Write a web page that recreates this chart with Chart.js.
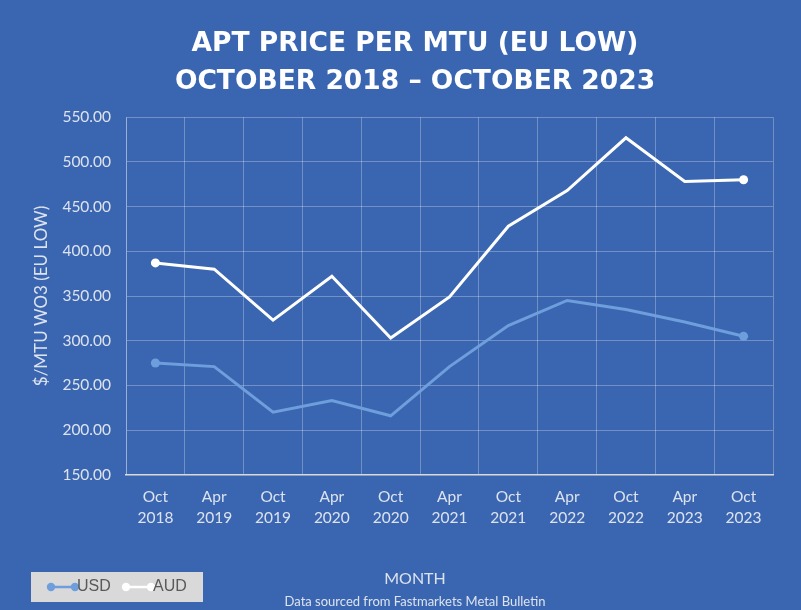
<!DOCTYPE html>
<html>
<head>
<meta charset="utf-8">
<script src="https://cdn.jsdelivr.net/npm/chart.js@4/dist/chart.umd.min.js"></script>
<style>
  html, body { margin: 0; padding: 0; background: #3A66B1; }
  #wrap { width: 801px; height: 610px; position: relative; }
</style>
</head>
<body>
<div id="wrap"><canvas id="c" width="801" height="610"></canvas></div>
<script>
const categories = [["Oct","2018"],["Apr","2019"],["Oct","2019"],["Apr","2020"],["Oct","2020"],["Apr","2021"],["Oct","2021"],["Apr","2022"],["Oct","2022"],["Apr","2023"],["Oct","2023"]];
const usdValues = [275, 271, 220, 233, 216, 271, 317, 345, 335, 321, 305];
const audValues = [387, 380, 323, 372, 303, 349, 428, 468, 527, 478, 480];
const yMin = 150, yMax = 550, yStep = 50;
const titleLines = ["APT PRICE PER MTU (EU LOW)", "OCTOBER 2018 \u2013 OCTOBER 2023"];
const yTitle = "$/MTU WO3 (EU LOW)";
const xTitle = "MONTH";
const footer = "Data sourced from Fastmarkets Metal Bulletin";

const USD_COLOR = "#6E9EDC";
const AUD_COLOR = "#FFFFFF";
const TEXT_COLOR = "#DDE3EE";
const GRID_COLOR = "rgba(255,255,255,0.28)";

function endPoints(ctx) {
  const n = ctx.dataset.data.length;
  return (ctx.dataIndex === 0 || ctx.dataIndex === n - 1) ? 4.5 : 0;
}

// Centre the title, footer and x-axis title on x = 415 as in the reference
const centerPlugin = {
  id: "centerText",
  afterLayout(chart) {
    const cx = 415, half = 358;
    const TitleCls = chart.titleBlock ? chart.titleBlock.constructor : null;
    chart.boxes.forEach(b => {
      if (TitleCls && b instanceof TitleCls) { b.left = cx - half; b.right = cx + half; }
    });
    const sx = chart.scales.x;
    if (sx && !sx._shiftWrapped) {
      const orig = sx.drawTitle.bind(sx);
      sx.drawTitle = function () {
        const mid = (this.left + this.right) / 2;
        this.ctx.save();
        this.ctx.translate(cx - mid, 0);
        orig();
        this.ctx.restore();
      };
      sx._shiftWrapped = true;
    }
  }
};

const legendPlugin = {
  id: "boxLegend",
  afterDraw(chart) {
    const ctx = chart.ctx;
    ctx.save();
    ctx.fillStyle = "#D9D9D9";
    ctx.fillRect(31, 572, 172, 30);
    const items = [
      { x0: 51, x1: 75, tx: 77 },
      { x0: 126, x1: 151, tx: 153 }
    ];
    const y = 587;
    ctx.font = "16px 'Liberation Sans Narrow', 'Liberation Sans', Arial, sans-serif";
    ctx.textBaseline = "middle";
    ctx.textAlign = "left";
    chart.data.datasets.forEach((ds, i) => {
      const it = items[i];
      ctx.strokeStyle = ds.borderColor;
      ctx.fillStyle = ds.borderColor;
      ctx.lineWidth = 2.5;
      ctx.beginPath();
      ctx.moveTo(it.x0, y); ctx.lineTo(it.x1, y); ctx.stroke();
      [it.x0, it.x1].forEach(px => { ctx.beginPath(); ctx.arc(px, y, 4.2, 0, Math.PI * 2); ctx.fill(); });
      ctx.fillStyle = "#595959";
      ctx.fillText(ds.label, it.tx, y);
    });
    ctx.restore();
  }
};

new Chart(document.getElementById("c"), {
  type: "line",
  data: {
    labels: categories,
    datasets: [
      { label: "USD", data: usdValues, borderColor: USD_COLOR, backgroundColor: USD_COLOR,
        borderWidth: 3, pointRadius: endPoints, pointBackgroundColor: USD_COLOR, pointBorderWidth: 0, tension: 0 },
      { label: "AUD", data: audValues, borderColor: AUD_COLOR, backgroundColor: AUD_COLOR,
        borderWidth: 3, pointRadius: endPoints, pointBackgroundColor: AUD_COLOR, pointBorderWidth: 0, tension: 0 }
    ]
  },
  options: {
    responsive: false,
    animation: false,
    devicePixelRatio: 1,
    layout: { padding: { left: 0, right: 28, top: 0, bottom: 0 } },
    plugins: {
      legend: { display: false },
      tooltip: { enabled: false },
      title: {
        display: true, text: titleLines, color: "#FFFFFF",
        font: { family: "'DejaVu Sans', sans-serif", size: 26.5, weight: "bold", lineHeight: 1.4 },
        padding: { top: 26, bottom: 17 }
      },
      subtitle: {
        display: true, position: "bottom", text: footer, color: TEXT_COLOR,
        font: { family: "Lato, sans-serif", size: 13, lineHeight: 1.2 },
        padding: { top: 2, bottom: 0 }
      }
    },
    scales: {
      x: {
        offset: true,
        grid: { offset: true, color: GRID_COLOR, drawTicks: false },
        border: { color: "#D9D9D9", width: 1.5 },
        ticks: { color: TEXT_COLOR, font: { family: "Lato, sans-serif", size: 15.5, lineHeight: 1.4 }, padding: 11, maxRotation: 0, autoSkip: false },
        title: { display: true, text: xTitle, color: TEXT_COLOR, font: { family: "Lato, sans-serif", size: 16 }, padding: { top: 29, bottom: 4 } }
      },
      y: {
        min: yMin, max: yMax,
        grid: { color: GRID_COLOR, drawTicks: false },
        border: { color: GRID_COLOR },
        ticks: { stepSize: yStep, color: TEXT_COLOR, padding: 15, font: { family: "Lato, sans-serif", size: 15.5 },
                 callback: v => Number(v).toFixed(2) },
        title: { display: true, text: yTitle, color: TEXT_COLOR, font: { family: "Lato, sans-serif", size: 17 }, padding: { top: 31, bottom: 0 } },
        afterFit(scale) { scale.width = 126; }
      }
    }
  },
  plugins: [centerPlugin, legendPlugin]
});
</script>
</body>
</html>
